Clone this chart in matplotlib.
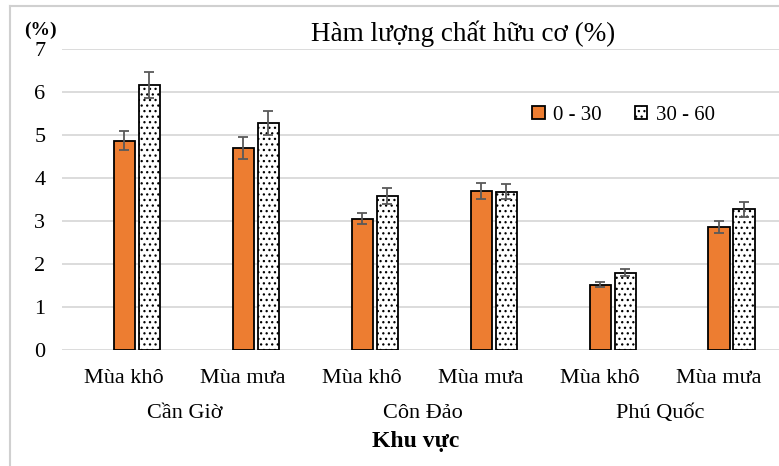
import matplotlib.pyplot as plt
import matplotlib.transforms as mtransforms
from matplotlib.lines import Line2D
import numpy as np

plt.rcParams['font.family'] = ['Liberation Serif', 'DejaVu Serif']
plt.rcParams['hatch.linewidth'] = 0.9

seasons = ['Mùa khô', 'Mùa mưa', 'Mùa khô', 'Mùa mưa', 'Mùa khô', 'Mùa mưa']
regions = ['Cần Giờ', 'Côn Đảo', 'Phú Quốc']
depth_0_30 = [4.87, 4.70, 3.05, 3.70, 1.52, 2.87]
err_0_30 = [0.23, 0.25, 0.13, 0.18, 0.06, 0.14]
depth_30_60 = [6.17, 5.28, 3.58, 3.68, 1.80, 3.27]
err_30_60 = [0.30, 0.28, 0.18, 0.18, 0.08, 0.17]

fig = plt.figure(figsize=(7.79, 4.66), dpi=100)
# axes run a little past the right edge, like the cropped original
ax = fig.add_axes([0.0796, 0.249, 0.936, 0.646])

x = np.arange(len(seasons))
w = 0.18
err_kw = dict(ecolor='#595959', elinewidth=1.3, capsize=3.5, capthick=1.3)
ax.bar(x - 0.105, depth_0_30, w, color='#ED7D31', edgecolor='black',
       linewidth=1.3, yerr=err_0_30, error_kw=err_kw, label='0 - 30', zorder=3)
ax.bar(x + 0.105, depth_30_60, w, color='white', edgecolor='black',
       linewidth=1.3, hatch='...', yerr=err_30_60, error_kw=err_kw,
       label='30 - 60', zorder=3)

ax.set_xlim(-0.63, 5.5)
ax.set_ylim(0, 7)
ax.set_yticks(range(8))
ax.tick_params(axis='y', length=0, labelsize=16, pad=12)
ax.tick_params(axis='x', length=0, labelsize=16, pad=14)
# category labels sit slightly left of the bar pairs in the original
ax.set_xticks(x - 0.11)
ax.set_xticklabels(seasons)
ax.grid(axis='y', color='#d9d9d9', linewidth=1.3, zorder=0)
for s in ax.spines.values():
    s.set_visible(False)

trans = mtransforms.blended_transform_factory(ax.transData, ax.transAxes)
for i, r in enumerate(regions):
    ax.text(2 * i + 0.4, -0.21, r, transform=trans, ha='center', va='center', fontsize=16)
ax.text(2.34, -0.305, 'Khu vực', transform=trans, ha='center', va='center',
        fontsize=17, fontweight='bold')

fig.text(0.595, 0.928, 'Hàm lượng chất hữu cơ (%)', ha='center', va='center', fontsize=19.5)
fig.text(0.052, 0.935, '(%)', ha='center', va='center', fontsize=14, fontweight='bold')

ax.legend(loc='center', bbox_to_anchor=(0.77, 0.78), ncol=2, frameon=False,
          fontsize=15, handlelength=0.6, handleheight=0.6, columnspacing=1.6,
          handletextpad=0.4)

# outer chart frame
fig.add_artist(Line2D([0.013, 0.013], [0, 0.987], color='#d0d0d0', lw=1.5))
fig.add_artist(Line2D([0.013, 1.0], [0.987, 0.987], color='#d0d0d0', lw=1.5))

fig.savefig('out.png', dpi=100)
